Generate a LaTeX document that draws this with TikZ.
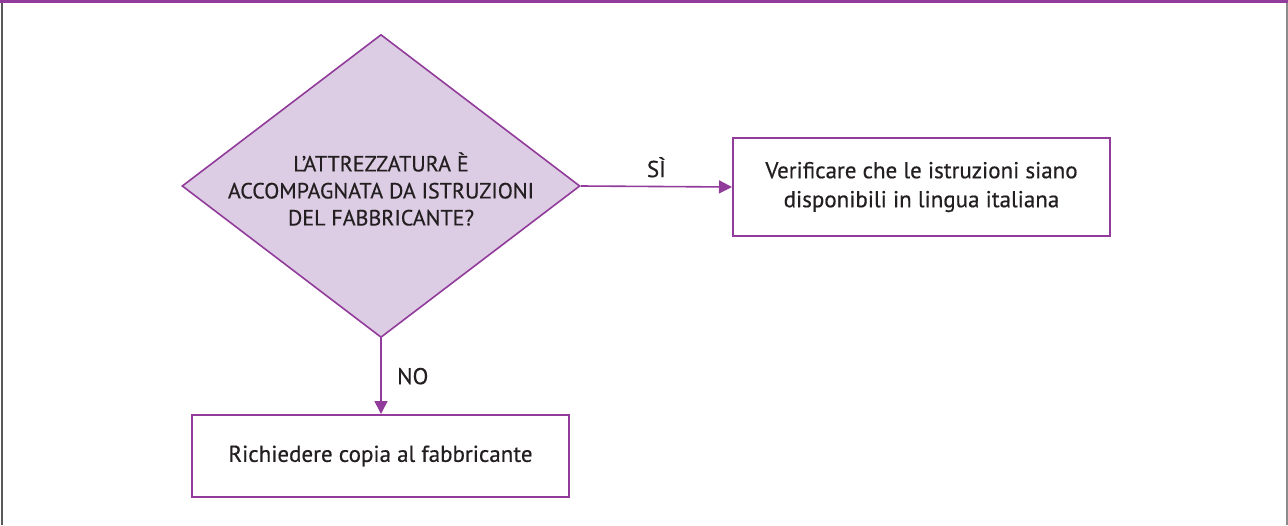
\documentclass[tikz,border=0pt]{standalone}
\usepackage{fontspec}
\setmainfont{PT Sans}[BoldFont=PT Sans, BoldFeatures={FakeBold=0.5}]
\usepackage{tikz}
\definecolor{flowpurple}{RGB}{145, 59, 154}
\definecolor{flowlilac}{RGB}{221, 205, 228}
\definecolor{flowtext}{RGB}{35, 31, 32}
\definecolor{framegray}{RGB}{90, 90, 90}
\usetikzlibrary{
  arrows.meta,
  calc,
  positioning,
  shapes.geometric,
}
\tikzset{
  >={Triangle[width=13pt,length=13pt]},
}

\begin{document}
\begin{tikzpicture}[x=1pt, y=-1pt,
    box/.style={draw=flowpurple, line width=2pt, align=center, text=flowtext,
                font=\fontsize{23}{29}\selectfont\bfseries, inner sep=0pt,
                minimum width=377pt},
    quest/.style={diamond, draw=flowpurple, fill=flowlilac, line width=1.6pt,
                  inner sep=0pt, minimum width=398pt, minimum height=303pt},
    questtext/.style={align=center, text=flowtext, inner sep=0pt,
                      font=\fontsize{22}{27}\selectfont\bfseries},
    flow/.style={->, draw=flowpurple, line width=1.6pt, shorten >=0pt},
    answer/.style={text=flowtext, font=\fontsize{23}{24}\selectfont\bfseries}]
      \useasboundingbox (0,0) rectangle (1288,525);
      % frame
      \draw [framegray!70, line width=1.5pt] (2,525) -- (2,2) -- (1287,2) -- (1287,525);
      \draw [framegray, line width=2pt] (2,2) -- (2,525);
      \fill [flowpurple] (0,0) rectangle (1288,2.5);
      % flow
      \node [quest] (attr) at (381,186) {};
      \node [questtext] (attrtext) at (381,189)
            {L'ATTREZZATURA È\\ACCOMPAGNATA DA ISTRUZIONI\\DEL FABBRICANTE?};
      \node [box, minimum height=98pt] (verif) at (921.5,187)
            {Verificare che le istruzioni siano\\disponibili in lingua italiana};
      \node [box, minimum height=82pt] (copia) at (380.5,456)
            {Richiedere copia al fabbricante};
      \draw [flow] (attr.east) -- (verif.west)
            node [answer, midway, above=5pt] (si) {SÌ};
      \draw [flow] (attr.south) -- (attr.south |- copia.north)
            node [answer, midway, right=12pt] (no) {NO};
    \end{tikzpicture}
\end{document}
